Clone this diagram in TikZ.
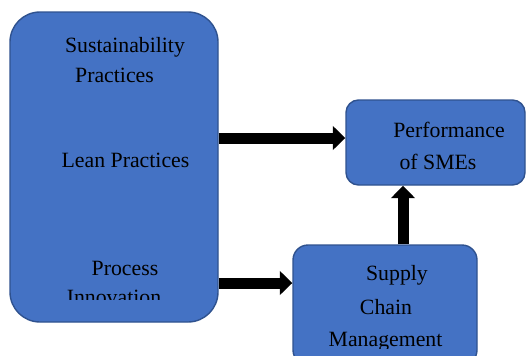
\documentclass[tikz,border=0pt]{standalone}
\usepackage{fontspec}
\setmainfont{Liberation Serif}
\usepackage{tikz}
\usetikzlibrary{arrows.meta, positioning}
\definecolor{boxblue}{HTML}{4472C4}
\definecolor{boxedge}{HTML}{2F528F}

\begin{document}
\begin{tikzpicture}[>={Triangle[length=0.25cm, width=0.47cm]}, font=\fontsize{12.4}{15}\selectfont]
        \useasboundingbox (0,0) rectangle (10.52,-7.1);
        \clip (0,0) rectangle (10.52,-7.1);
        \begin{scope}[every node/.style={
            rectangle,
            draw=boxedge,
            fill=boxblue,
            line width=0.8pt}]
            \node[rounded corners=0.6cm, minimum width=4.16cm, minimum height=6.2cm] (drivers) at (2.28,-3.34) {};
            \node[rounded corners=0.25cm, minimum width=3.58cm, minimum height=1.7cm] (perf) at (8.71,-2.85) {};
            \node[rounded corners=0.3cm, minimum width=3.68cm, minimum height=2.4cm] (scm) at (7.70,-6.1) {};
        \end{scope}
        \node (sust) at (2.5,-0.94) {Sustainability};
        \node (sustb) at (2.29,-1.5) {Practices};
        \node (lean) at (2.51,-3.2) {Lean Practices};
        \begin{scope}
            \clip (0,0) rectangle (10.52,-5.99);
            \node (proc) at (2.5,-5.36) {Process};
            \node (procb) at (2.28,-5.94) {Innovation};
        \end{scope}
        \node (perfa) at (8.98,-2.6) {Performance};
        \node (perfb) at (8.76,-3.24) {of SMEs};
        \begin{scope}
            \clip (0,0) rectangle (10.52,-6.96);
            \node (scma) at (7.94,-5.5) {Supply};
            \node (scmb) at (7.72,-6.14) {Chain};
            \node (scmc) at (7.71,-6.84) {Management};
        \end{scope}
        \draw[->, line width=0.22cm] ([yshift=0.09cm]perf.west -| drivers.east) -- ([yshift=0.09cm]perf.west);
        \draw[->, line width=0.22cm] ([yshift=0.44cm]scm.west -| drivers.east) -- ([yshift=0.44cm]scm.west);
        \draw[->, line width=0.22cm] ([xshift=0.36cm]scm.north) -- ([xshift=0.36cm]scm.north |- perf.south);
    \end{tikzpicture}
\end{document}
